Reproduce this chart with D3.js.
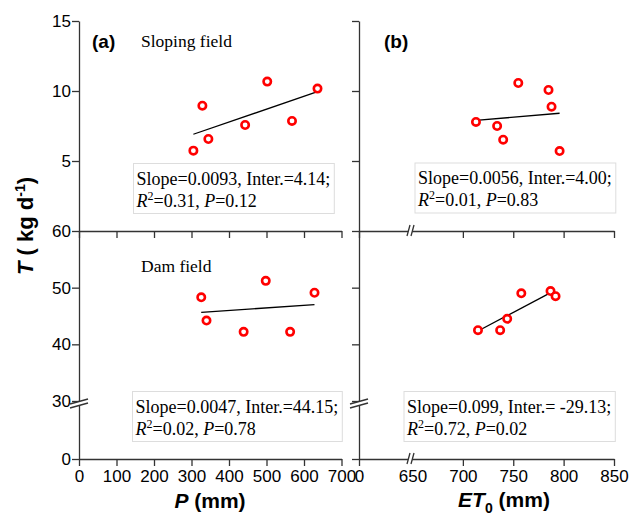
<!DOCTYPE html>
<html>
<head>
<meta charset="utf-8">
<script src="https://cdn.jsdelivr.net/npm/d3@7"></script>
<style>
body { margin: 0; background: #fff; }
svg { display: block; }
</style>
</head>
<body>
<svg width="637" height="519"></svg>
<script>

// values
// (a) sloping field, T vs P
var pSlope  = [305, 329, 345, 443, 502, 568, 636];
var tSlopeP = [5.74, 8.95, 6.57, 7.57, 10.67, 7.86, 10.17];
// (a) dam field, T vs P
var pDam  = [326, 340, 439, 498, 563, 628];
var tDamP = [48.3, 44.2, 42.2, 51.2, 42.2, 49.1];
// (b) sloping field, T vs ET0
var etSlope = [713, 734, 740, 755, 785, 788, 796];
var tSlopeE = [7.79, 7.5, 6.52, 10.57, 10.07, 8.88, 5.71];
// (b) dam field, T vs ET0
var etDam  = [715, 737, 744, 758, 787, 792];
var tDamE  = [42.5, 42.5, 44.5, 49.0, 49.4, 48.5];

// end points of the fitted lines [x, T]
var fitSlopeP = [[305, 6.91], [634, 9.93]];
var fitDamP   = [[326, 45.65], [628, 47.0]];
var fitSlopeE = [[713, 7.9], [796, 8.41]];
var fitDamE   = [[715, 42.35], [790, 49.4]];

// regression notes: first line, R2, P
var noteSlopeP = ["Slope=0.0093, Inter.=4.14;", "0.31", "0.12"];
var noteSlopeE = ["Slope=0.0056, Inter.=4.00;", "0.01", "0.83"];
var noteDamP   = ["Slope=0.0047, Inter.=44.15;", "0.02", "0.78"];
var noteDamE   = ["Slope=0.099, Inter.= -29.13;", "0.72", "0.02"];

var pTicks   = [0, 100, 200, 300, 400, 500, 600, 700];
var etTicks  = [0, 650, 700, 750, 800, 850];
var topTicks = [5, 10, 15];
var botTicks = [0, 30, 40, 50, 60];

var svg = d3.select("svg");
var axisCol = "#333";
var sans = "Arial, 'Liberation Sans', sans-serif";
var serif = "'Times New Roman', 'Liberation Serif', serif";

//scales, lower panel and ET0 axis are broken
var xP = d3.scaleLinear().domain([0, 700]).range([79, 341.5]);
var xE = d3.scaleLinear().domain([0, 650, 850]).range([359, 412.5, 614]);
var yTop = d3.scaleLinear().domain([0, 15]).range([231, 21]);
var yBot = d3.scaleLinear().domain([0, 30, 60]).range([459, 401, 231]);

//regression note box
function note(x, y, lines) {
    var g = svg.append("g");
    var rect = g.append("rect").attr("fill", "#fff").attr("stroke", "#ddd").attr("stroke-width", 1);
    var t = g.append("text")
        .attr("font-family", serif)
        .attr("font-size", 18)
        .attr("fill", "#000");
    t.append("tspan").attr("x", x + 3).attr("y", y + 21).text(lines[0]);
    t.append("tspan").attr("x", x + 3).attr("y", y + 43).attr("font-style", "italic").text("R");
    t.append("tspan").attr("font-size", 12).attr("dy", -7).text("2");
    t.append("tspan").attr("dy", 7).text("=" + lines[1] + ", ");
    t.append("tspan").attr("font-style", "italic").text("P");
    t.append("tspan").text("=" + lines[2]);
    var bb = t.node().getBBox();
    rect.attr("x", x).attr("y", y).attr("width", bb.x + bb.width - x + 4).attr("height", 50);
}

//one scatter panel
function panel(xs, ys, sx, sy, fit) {
    svg.append("line")
        .attr("x1", sx(fit[0][0])).attr("y1", sy(fit[0][1]))
        .attr("x2", sx(fit[1][0])).attr("y2", sy(fit[1][1]))
        .attr("stroke", "#000").attr("stroke-width", 1.3);
    svg.append("g").selectAll("circle")
        .data(xs)
        .enter().append("circle")
        .attr("cx", function (d) { return sx(d); })
        .attr("cy", function (d, i) { return sy(ys[i]); })
        .attr("r", 3.7)
        .attr("fill", "#fff")
        .attr("stroke", "#ff0000")
        .attr("stroke-width", 2.6);
}

note(133.5, 163.5, noteSlopeP);
note(415, 163, noteSlopeE);
note(132.5, 391.5, noteDamP);
note(404, 391.5, noteDamE);

panel(pSlope, tSlopeP, xP, yTop, fitSlopeP);
panel(pDam, tDamP, xP, yBot, fitDamP);
panel(etSlope, tSlopeE, xE, yTop, fitSlopeE);
panel(etDam, tDamE, xE, yBot, fitDamE);

//axes drawn after the marks so their labels stay on top
function styleAxis(g) {
    g.attr("font-family", sans).attr("font-size", 17);
    g.selectAll(".domain").attr("stroke", axisCol).attr("stroke-width", 1.3);
    g.selectAll(".tick line").attr("stroke", axisCol).attr("stroke-width", 1.3);
    g.selectAll(".tick text").attr("fill", "#000");
}

//y axes
[[79, true], [359, false]].forEach(function (a) {
    var up = d3.axisLeft(yTop).tickValues(topTicks).tickSize(7).tickSizeOuter(0).tickPadding(1);
    var lo = d3.axisLeft(yBot).tickValues(botTicks).tickSize(7).tickSizeOuter(0).tickPadding(1);
    if (!a[1]) { up.tickFormat(""); lo.tickFormat(""); }
    svg.append("g").attr("transform", "translate(" + a[0] + ",0)").call(up).call(styleAxis);
    svg.append("g").attr("transform", "translate(" + a[0] + ",0)").call(lo).call(styleAxis);
});

//x axes
[231, 459].forEach(function (y) {
    var ax1 = d3.axisBottom(xP).tickValues(pTicks).tickSize(7).tickSizeOuter(0).tickPadding(4);
    var ax2 = d3.axisBottom(xE).tickValues(etTicks).tickSize(7).tickSizeOuter(0).tickPadding(4);
    if (y == 231) { ax1.tickFormat(""); ax2.tickFormat(""); }
    svg.append("g").attr("transform", "translate(0," + y + ")").call(ax1).call(styleAxis);
    var g2 = svg.append("g").attr("transform", "translate(0," + y + ")").call(ax2).call(styleAxis);
    // no tick mark at the break
    g2.selectAll(".tick").filter(function (d) { return d == 650; }).select("line").remove();
});

//axis breaks
function yBreak(x, y) {
    svg.append("polygon")
        .attr("points", [[x - 9, y + 2], [x + 9, y - 3], [x + 9, y + 1], [x - 9, y + 6]].join(" "))
        .attr("fill", "#fff");
    [0, 4].forEach(function (o) {
        svg.append("line")
            .attr("x1", x - 9).attr("y1", y + 2 + o)
            .attr("x2", x + 9).attr("y2", y - 3 + o)
            .attr("stroke", axisCol).attr("stroke-width", 1.3);
    });
}
function xBreak(x, y) {
    svg.append("polygon")
        .attr("points", [[x - 3.5, y + 5], [x - 0.5, y - 6], [x + 3.5, y - 6], [x + 0.5, y + 5]].join(" "))
        .attr("fill", "#fff");
    [0, 4].forEach(function (o) {
        svg.append("line")
            .attr("x1", x - 3.5 + o).attr("y1", y + 5)
            .attr("x2", x - 0.5 + o).attr("y2", y - 6)
            .attr("stroke", axisCol).attr("stroke-width", 1.3);
    });
}
yBreak(79, yBot(30) + 1);
yBreak(359, yBot(30) + 1);
xBreak(xE(650) - 2, 231);
xBreak(xE(650) - 2, 459);

//panel letters and field names
svg.append("text").attr("x", 92).attr("y", 48).attr("font-family", sans)
    .attr("font-weight", "bold").attr("font-size", 19).text("(a)");
svg.append("text").attr("x", 384).attr("y", 48).attr("font-family", sans)
    .attr("font-weight", "bold").attr("font-size", 19).text("(b)");
svg.append("text").attr("x", 141).attr("y", 47).attr("font-family", serif)
    .attr("font-size", 17.5).text("Sloping field");
svg.append("text").attr("x", 141).attr("y", 272).attr("font-family", serif)
    .attr("font-size", 17.5).text("Dam field");

//axis titles
var yl = svg.append("text")
    .attr("transform", "translate(33,226) rotate(-90)")
    .attr("text-anchor", "middle")
    .attr("font-family", sans).attr("font-weight", "bold").attr("font-size", 22);
yl.append("tspan").attr("font-style", "italic").text("T");
yl.append("tspan").text(" ( kg d");
yl.append("tspan").attr("font-size", 14).attr("dy", -8).text("-1");
yl.append("tspan").attr("dy", 8).text(")");

var xl1 = svg.append("text").attr("x", 210).attr("y", 508).attr("text-anchor", "middle")
    .attr("font-family", sans).attr("font-weight", "bold").attr("font-size", 21);
xl1.append("tspan").attr("font-style", "italic").text("P");
xl1.append("tspan").text(" (mm)");

var xl2 = svg.append("text").attr("x", 504).attr("y", 507).attr("text-anchor", "middle")
    .attr("font-family", sans).attr("font-weight", "bold").attr("font-size", 21);
xl2.append("tspan").attr("font-style", "italic").text("ET");
xl2.append("tspan").attr("font-size", 14).attr("dy", 6).text("0");
xl2.append("tspan").attr("dy", -6).text(" (mm)");

</script>
</body>
</html>
